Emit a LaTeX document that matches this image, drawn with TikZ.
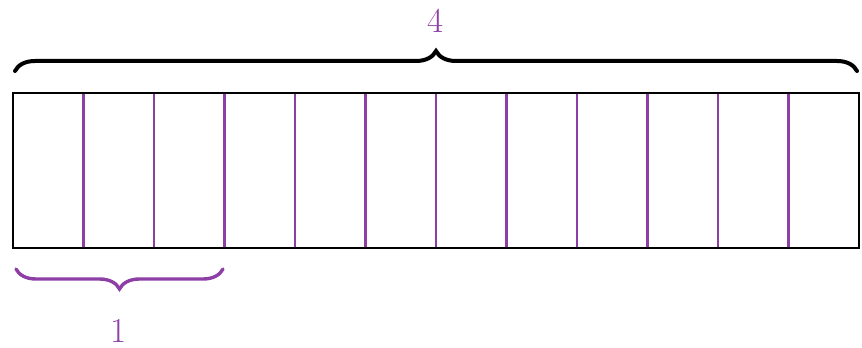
\documentclass[tikz,border=0pt]{standalone}
\usetikzlibrary{decorations.pathreplacing}
\definecolor{plum}{RGB}{141,63,166}
\tikzset{
  outline/.style={draw=black,line width=2.6pt},
  divider/.style={draw=plum,line width=2.4pt},
  bigbrace/.style={decorate,decoration={brace,amplitude=20pt,aspect=0.5},line width=4pt,line cap=round},
  numlabel/.style={text=plum,font=\fontsize{35}{40}\selectfont,inner sep=0pt}
}
\begin{document}
\begin{tikzpicture}[x=1pt,y=1pt]
\useasboundingbox (0,0) rectangle (862,348);
\coordinate (bl) at (13,100);
\coordinate (tr) at (859,255);
\foreach \k in {1,...,11}{
  \draw[divider] (13+70.5*\k,100) -- (13+70.5*\k,255);
}
\draw[outline] (bl) rectangle (tr);
\coordinate (tbA) at (15,277);
\coordinate (tbB) at (857,277);
\draw[bigbrace,black] (tbA) -- (tbB);
\node[numlabel] (four) at (436,327) {4};
\coordinate (bbA) at (223,79);
\coordinate (bbB) at (16,79);
\draw[bigbrace,plum,line width=3.4pt] (bbA) -- (bbB);
\node[numlabel] (one) at (119,17) {1};
\end{tikzpicture}
\end{document}
